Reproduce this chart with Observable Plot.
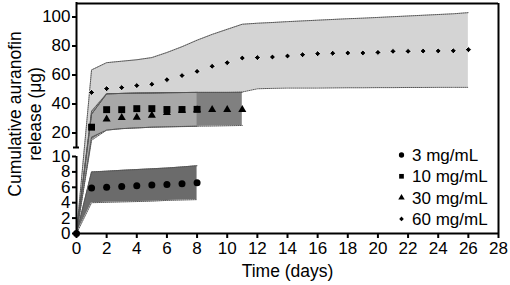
<!DOCTYPE html>
<html><head><meta charset="utf-8">
<script src="https://cdn.jsdelivr.net/npm/d3@7"></script>
<script src="https://cdn.jsdelivr.net/npm/@observablehq/plot@0.6"></script>
<style>
body{margin:0;background:#fff;font-family:"Liberation Sans",Arial,sans-serif;}
#wrap{position:relative;width:510px;height:285px;overflow:hidden;}
</style></head><body><div id="wrap"></div>
<script>
// ---- data ----
const seriesNames = ["3 mg/mL", "10 mg/mL", "30 mg/mL", "60 mg/mL"];

const days3 = [0,1,2,3,4,5,6,7,8];
const mean3 = [0,5.9,6.0,6.1,6.2,6.3,6.35,6.45,6.6];
const lo3   = [0,4.0,4.05,4.1,4.15,4.2,4.3,4.35,4.4];
const hi3   = [0,8.0,8.1,8.2,8.3,8.4,8.5,8.65,8.8];

const days10 = [0,1,2,3,4,5,6,7,8];
const mean10 = [null,24,36.1,36.1,36.8,36.8,36.2,36.2,36.3];
const lo10   = [0,17,22,23,23.5,24,24.2,24.4,24.6];
const hi10   = [0,35,47,47.3,47.5,47.6,47.8,47.9,48];

const days30 = [0,1,2,3,4,5,6,7,8,9,10,11];
const mean30 = [null,null,29.5,30.5,30.8,32.2,34,35.5,36,36.1,36.1,36.1];
const lo30   = [0,15,22,23,23.5,24,24.3,24.5,24.7,24.8,25,25.2];
const hi30   = [0,33,47,47.3,47.5,47.6,47.8,47.9,48,48,48,48];

const days60 = [0,1,2,3,4,5,6,7,8,9,10,11,12,13,14,15,16,17,18,19,20,21,22,23,24,25,26];
const mean60 = [null,48,50.6,51.3,52.7,53.6,56.8,59.6,62.5,66,68.5,71.7,72,72.4,73.1,74,74.7,75,75.2,75.2,75.6,76.3,76.3,76.5,76.6,76.7,77.5];
const lo60   = [0,33,47,47.3,47.5,47.6,47.8,47.9,48,48,48,48.3,50.5,50.8,51,51,51,51.1,51.2,51.2,51.3,51.3,51.4,51.4,51.5,51.5,51.5];
const hi60   = [0,63.5,68.5,69.5,70.5,72,75.5,79.5,84,88,91.5,95,95.7,96.2,96.8,97.3,97.8,98.3,98.8,99.2,99.7,100.2,100.7,101.2,101.7,102.2,103];

const xTicks = [0,2,4,6,8,10,12,14,16,18,20,22,24,26,28];
const yTicksLow = [0,2,4,6,8,10];
const yTicksHigh = [20,40,60,80,100];
const yTitle = ["Cumulative auranofin", "release (μg)"];
const xTitle = "Time (days)";

// ---- build tables ----
function rows(days, mean, lo, hi) {
  return days.map((d, i) => ({day: d, mean: mean[i], lo: lo[i], hi: hi[i]}));
}
const s3 = rows(days3, mean3, lo3, hi3);
const s10 = rows(days10, mean10, lo10, hi10);
const s30 = rows(days30, mean30, lo30, hi30);
const s60 = rows(days60, mean60, lo60, hi60);
const pts = a => a.filter(d => d.mean != null);

// broken y axis: 0–10 in the lower segment, 10–110 in the upper one
const brk = v => (v <= 10 ? 7.7 * v : 86 + 1.45 * (v - 10));
const allTicks = [...yTicksLow, ...yTicksHigh];
const tickLabel = new Map(allTicks.map(v => [brk(v), String(v)]));

const dotted = {strokeDasharray: "1,1", strokeWidth: 1, stroke: "#555"};
function outline(data) {
  return [
    Plot.lineY(data, {x: "day", y: "lo", ...dotted}),
    Plot.lineY(data, {x: "day", y: "hi", ...dotted})
  ];
}

const chart = Plot.plot({
  width: 510, height: 285,
  marginLeft: 76, marginRight: 12, marginTop: 3, marginBottom: 52,
  style: {fontFamily: "'Liberation Sans', Arial, sans-serif", fontSize: "17px", color: "black", background: "white", overflow: "visible"},
  x: {domain: [0, 28]},
  y: {transform: brk, domain: [0, 230]},
  marks: [
    Plot.areaY(s60, {x: "day", y1: "lo", y2: "hi", fill: "#d4d4d4"}),
    Plot.areaY(s30, {x: "day", y1: "lo", y2: "hi", fill: "#808080"}),
    Plot.areaY(s10, {x: "day", y1: "lo", y2: "hi", fill: "#a8a8a8"}),
    Plot.areaY(s3, {x: "day", y1: "lo", y2: "hi", fill: "#6b6b6b"}),
    ...outline(s60), ...outline(s30), ...outline(s10), ...outline(s3),
    Plot.axisX({ticks: xTicks, tickSize: 5, tickPadding: 3, strokeWidth: 2, label: null, fontSize: 17}),
    Plot.axisY({ticks: allTicks.map(brk), tickFormat: t => tickLabel.get(t), tickSize: 4, tickPadding: 2, strokeWidth: 2, label: null, fontSize: 17}),
    // frame with broken left axis
    Plot.ruleX([0], {y1: 0, y2: 10, strokeWidth: 2}),
    Plot.ruleX([0], {y1: 10.0001, y2: 110, strokeWidth: 2}),
    Plot.ruleY([10.0001], {x1: -0.2, x2: 0.2, strokeWidth: 2}),
    Plot.ruleY([0], {x1: 0, x2: 28, strokeWidth: 2}),
    Plot.ruleY([109.3], {x1: 0, x2: 28, strokeWidth: 2}),
    Plot.ruleX([28], {y1: 0, y2: 109.3, strokeWidth: 2}),
    // points
    Plot.dot(pts(s60), {x: "day", y: "mean", symbol: "diamond2", r: 2.7, fill: "black", stroke: "white", strokeWidth: 0.8}),
    Plot.dot(pts(s30), {x: "day", y: "mean", symbol: "triangle", r: 3, fill: "black"}),
    Plot.dot(pts(s10), {x: "day", y: "mean", symbol: "square", r: 3.9, fill: "black"}),
    Plot.dot(pts(s3), {x: "day", y: "mean", symbol: "circle", r: 3.5, fill: "black"}),
    Plot.text([xTitle], {text: d => d, frameAnchor: "bottom", dy: 38, lineAnchor: "middle", fontSize: 17.5})
  ]
});
const wrap = document.getElementById("wrap");
wrap.appendChild(chart);

// ---- overlay: rotated y title and legend ----
const ns = "http://www.w3.org/2000/svg";
const ov = document.createElementNS(ns, "svg");
ov.setAttribute("width", 510); ov.setAttribute("height", 285);
ov.style.position = "absolute"; ov.style.left = "0"; ov.style.top = "0";
ov.setAttribute("font-family", "'Liberation Sans', Arial, sans-serif");
function addText(parent, str, attrs) {
  const t = document.createElementNS(ns, "text");
  for (const k in attrs) t.setAttribute(k, attrs[k]);
  t.textContent = str;
  parent.appendChild(t);
  return t;
}
yTitle.forEach((line, i) => {
  addText(ov, line, {transform: `translate(${15 + i * 20},114) rotate(-90)`, "text-anchor": "middle", dy: "0.35em", "font-size": 17.5});
});
const legendSymbols = [d3.symbolCircle, d3.symbolSquare, d3.symbolTriangle, d3.symbolDiamond2];
const legendSizes = [22, 22, 18, 14];
seriesNames.forEach((name, i) => {
  const cy = 155 + i * 21.3;
  const p = document.createElementNS(ns, "path");
  p.setAttribute("d", d3.symbol(legendSymbols[i], legendSizes[i])());
  p.setAttribute("transform", `translate(401.5,${cy})`);
  p.setAttribute("fill", "black");
  ov.appendChild(p);
  addText(ov, name, {x: 412, y: cy, dy: "0.35em", "font-size": 17});
});
wrap.appendChild(ov);
</script>
</body></html>
